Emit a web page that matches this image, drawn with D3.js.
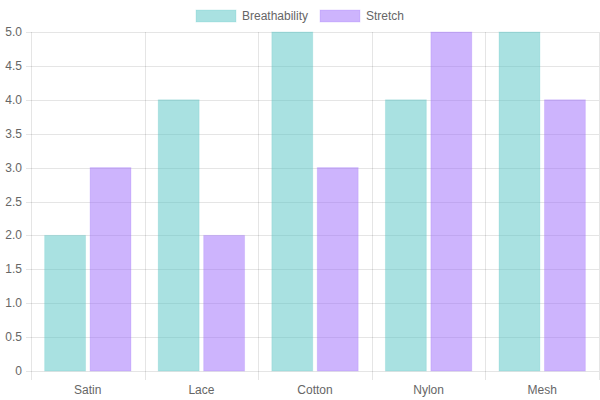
<!DOCTYPE html>
<html>
<head>
<meta charset="utf-8">
<script src="https://cdn.jsdelivr.net/npm/d3@7"></script>
<style>
  body { margin: 0; background: #fff; }
  svg { display: block; font-family: "Liberation Sans", Arial, sans-serif; }
</style>
</head>
<body>
<svg id="chart" width="600" height="400"></svg>
<script>
const categories = ["Satin", "Lace", "Cotton", "Nylon", "Mesh"]
const breathability = [2, 4, 5, 4, 5]
const stretch = [3, 2, 3, 5, 4]
const yTicks = [0, 0.5, 1, 1.5, 2, 2.5, 3, 3.5, 4, 4.5, 5]

const series = [
  { name: "Breathability", values: breathability, fill: "rgba(84,196,196,0.5)", stroke: "rgba(84,196,196,0.2)" },
  { name: "Stretch", values: stretch, fill: "rgba(155,105,251,0.5)", stroke: "rgba(155,105,251,0.2)" }
]

const margin = { top: 32, right: 1, bottom: 29, left: 31 }
const width = 600, height = 400
const svg = d3.select("#chart")

const x = d3.scaleBand()
  .domain(categories)
  .range([margin.left, width - margin.right])

const y = d3.scaleLinear()
  .domain([0, 5])
  .range([height - margin.bottom, margin.top])

const grid = "rgba(0,0,0,0.1)"

// horizontal grid + y labels
svg.append("g")
  .selectAll("line")
  .data(yTicks)
  .join("line")
  .attr("x1", margin.left - 5)
  .attr("x2", width - margin.right)
  .attr("y1", d => Math.round(y(d)) + 0.5)
  .attr("y2", d => Math.round(y(d)) + 0.5)
  .attr("stroke", grid)

svg.append("g")
  .selectAll("text")
  .data(yTicks)
  .join("text")
  .attr("x", margin.left - 9)
  .attr("y", d => y(d))
  .attr("dy", "0.34em")
  .attr("text-anchor", "end")
  .attr("font-size", 12)
  .attr("fill", "#666")
  .text(d => d === 0 ? "0" : d.toFixed(1))

// vertical grid at category edges
const edges = categories.map(c => x(c)).concat([x.range()[1]])
svg.append("g")
  .selectAll("line")
  .data(edges)
  .join("line")
  .attr("x1", d => Math.round(d) + 0.5)
  .attr("x2", d => Math.round(d) + 0.5)
  .attr("y1", margin.top)
  .attr("y2", height - margin.bottom + 9)
  .attr("stroke", grid)

// bars
const x1 = d3.scaleBand()
  .domain(series.map(s => s.name))
  .range([0, x.bandwidth() * 0.8])

const bw = x1.bandwidth() * 0.9
const off = x.bandwidth() * 0.1 + x1.bandwidth() * 0.05

series.forEach(s => {
  svg.append("g")
    .selectAll("rect")
    .data(s.values)
    .join("rect")
    .attr("x", (d, i) => x(categories[i]) + off + x1(s.name))
    .attr("y", d => y(d))
    .attr("width", bw)
    .attr("height", d => y(0) - y(d))
    .attr("fill", s.fill)
    .attr("stroke", s.stroke)
    .attr("stroke-width", 1)
})

// x labels
svg.append("g")
  .selectAll("text")
  .data(categories)
  .join("text")
  .attr("x", d => x(d) + x.bandwidth() / 2)
  .attr("y", height - margin.bottom + 19)
  .attr("dy", "0.34em")
  .attr("text-anchor", "middle")
  .attr("font-size", 12)
  .attr("fill", "#666")
  .text(d => d)

// legend
const legend = svg.append("g")
const items = [
  { s: series[0], bx: 196, tx: 242 },
  { s: series[1], bx: 320, tx: 366 }
]
items.forEach(it => {
  legend.append("rect")
    .attr("x", it.bx).attr("y", 10)
    .attr("width", 40).attr("height", 12)
    .attr("fill", it.s.fill)
    .attr("stroke", it.s.stroke)
  legend.append("text")
    .attr("x", it.tx).attr("y", 16)
    .attr("dy", "0.34em")
    .attr("font-size", 12)
    .attr("fill", "#666")
    .text(it.s.name)
})
</script>
</body>
</html>
